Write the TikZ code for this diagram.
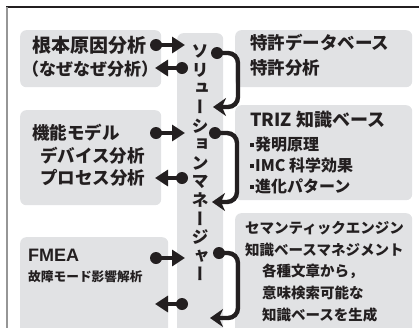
\documentclass[tikz,border=0pt]{standalone}
\usepackage{fontspec}
\usetikzlibrary{arrows.meta}
\newfontfamily\jp{Noto Sans CJK JP}
\newfontfamily\jpv[RawFeature=+vert]{Noto Sans CJK JP}
\newfontfamily\lat{Liberation Sans}
\definecolor{boxgray}{RGB}{225,226,228}
\definecolor{ink}{RGB}{35,31,32}
\definecolor{framegray}{RGB}{150,150,150}
\newcommand{\fs}[1]{\fontsize{#1}{#1}\selectfont}
\newcommand{\sqb}{\raisebox{4pt}{\rule{3.8pt}{3.8pt}}\hspace{1.2pt}}
\begin{document}
\begin{tikzpicture}[x=1pt,y=-1pt,
  boxstyle/.style={fill=boxgray, draw=none, rounded corners=6pt, inner sep=0, anchor=north west},
  txt/.style={inner sep=0, anchor=west, text=ink},
  dotn/.style={circle, fill=ink, inner sep=0, minimum size=12pt},
  lr/.style={line width=4.5pt, draw=ink, -{Triangle[length=13pt,width=16pt]}},
  cur/.style={line width=4.4pt, draw=ink, rounded corners=10pt, -{Stealth[length=13pt,width=18pt,inset=4pt]}}]
\useasboundingbox (0,0) rectangle (419,327);
\clip (0,0) rectangle (419,327);
% frame
\draw[line width=1.5pt, ink] (6,7) -- (419,7);
\draw[line width=1.8pt, framegray] (7,7) -- (7,330);
% boxes
\node[boxstyle, minimum width=141pt, minimum height=57pt] (rca) at (20,30) {};
\node[boxstyle, minimum width=141pt, minimum height=95pt] (fm) at (20,110) {};
\node[boxstyle, minimum width=148pt, minimum height=110pt] (fmea) at (20,237) {};
\node[boxstyle, minimum width=46pt, minimum height=310pt] (sol) at (177,33) {};
\node[boxstyle, minimum width=177pt, minimum height=57pt] (pat) at (235,30) {};
\node[boxstyle, minimum width=177pt, minimum height=95pt] (triz) at (235,105) {};
\node[boxstyle, minimum width=177pt, minimum height=130pt] (sem) at (235,213) {};
% texts left
\node[txt, font=\jp\bfseries\fs{19}] (t1) at (32,45) {根本原因分析};
\node[txt, font=\jp\bfseries\fs{17}] (t2) at (22,69) {（なぜなぜ分析）};
\node[txt, font=\jp\bfseries\fs{17.5}] (t3) at (32,133) {機能モデル};
\node[txt, font=\jp\bfseries\fs{17.5}] (t4) at (40,155.5) {デバイス分析};
\node[txt, font=\jp\bfseries\fs{17.5}] (t5) at (40,178) {プロセス分析};
\node[txt, font=\lat\bfseries\fs{18}] (t6) at (28,255) {FMEA};
\node[txt, font=\jp\bfseries\fs{12.7}] (t7) at (28,277) {故障モード影響解析};
% center vertical text
\node[inner sep=0, align=center, text=ink, font=\jpv\bfseries\fontsize{17}{18.6}\selectfont] (soltxt) at (200,163)
  {ソ\\リ\\ュ\\ー\\シ\\ョ\\ン\\マ\\ネ\\ー\\ジ\\ャ\\ー};
% texts right
\node[txt, font=\jp\bfseries\fs{17.5}] (r1) at (250,43) {特許データベース};
\node[txt, font=\jp\bfseries\fs{17.5}] (r2) at (250,68) {特許分析};
\node[txt, font=\jp\bfseries\fs{18}] (r3) at (250,120) {TRIZ 知識ベース};
\node[txt, font=\jp\bfseries\fs{16}] (r4) at (250,144.5) {\sqb 発明原理};
\node[txt, font=\jp\bfseries\fs{16}] (r5) at (250,165.5) {\sqb IMC 科学効果};
\node[txt, font=\jp\bfseries\fs{16}] (r6) at (250,186.5) {\sqb 進化パターン};
\node[txt, font=\jp\bfseries\fs{14.5}] (r7) at (245,228) {セマンティックエンジン};
\node[txt, font=\jp\bfseries\fs{14.5}] (r8) at (245,250) {知識ベースマネジメント};
\node[txt, font=\jp\bfseries\fs{14.5}] (r9) at (262,271) {各種文章から，};
\node[txt, font=\jp\bfseries\fs{14.5}] (r10) at (262,293) {意味検索可能な};
\node[txt, font=\jp\bfseries\fs{14.5}] (r11) at (262,315) {知識ベースを生成};
% dots and arrow tips
\node[dotn] (a1s) at (156,45) {};  \coordinate (a1e) at (185,45);
\node[dotn] (b1s) at (182,68) {};  \coordinate (b1e) at (155,68);
\node[dotn] (a2s) at (156,133) {}; \coordinate (a2e) at (185,133);
\node[dotn] (b2s) at (182,178) {}; \coordinate (b2e) at (155,178);
\node[dotn] (a3s) at (156,258) {}; \coordinate (a3e) at (185,258);
\node[dotn] (b3s) at (182,304) {}; \coordinate (b3e) at (155,304);
\node[dotn] (c1s) at (217,53) {};  \coordinate (c1e) at (213,107);
\node[dotn] (c2s) at (215,133) {}; \coordinate (c2e) at (212,202);
\node[dotn] (c3s) at (219,253) {}; \coordinate (c3e) at (210,318);
% connectors
\draw[lr] (a1s.center) -- (a1e);
\draw[lr] (b1s.center) -- (b1e);
\draw[lr] (a2s.center) -- (a2e);
\draw[lr] (b2s.center) -- (b2e);
\draw[lr] (a3s.center) -- (a3e);
\draw[lr] (b3s.center) -- (b3e);
\draw[cur] (c1s.center) -- (238,53) |- (c1e);
\draw[cur] (c2s.center) -- (237,133) |- (c2e);
\draw[cur] (c3s.center) -- (238,253) |- (c3e);
\end{tikzpicture}
\end{document}
